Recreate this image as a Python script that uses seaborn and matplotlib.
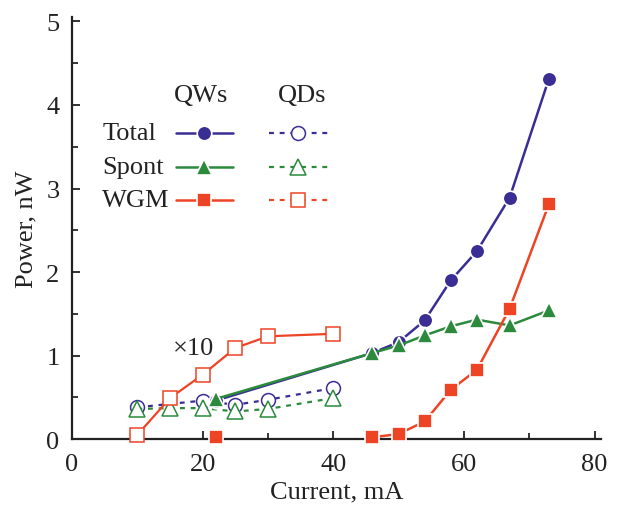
import matplotlib
matplotlib.use("Agg")
import matplotlib.pyplot as plt
import seaborn as sns

# QWs (filled markers, solid lines)
qw_total_x = [22, 46, 50, 54, 58, 62, 67, 73]
qw_total_y = [0.46, 1.03, 1.16, 1.42, 1.90, 2.25, 2.89, 4.31]
qw_spont_x = [22, 46, 50, 54, 58, 62, 67, 73]
qw_spont_y = [0.48, 1.03, 1.12, 1.24, 1.35, 1.43, 1.36, 1.54]
qw_wgm_x = [46, 50, 54, 58, 62, 67, 73]
qw_wgm_y = [0.02, 0.06, 0.21, 0.59, 0.83, 1.56, 2.81]
qw_wgm_lone_x = [22]
qw_wgm_lone_y = [0.02]

# QDs (open markers), WGM scaled x10
qd_total_x = [10, 20, 25, 30, 40]
qd_total_y = [0.38, 0.46, 0.41, 0.47, 0.61]
qd_spont_x = [10, 15, 20, 25, 30, 40]
qd_spont_y = [0.36, 0.37, 0.37, 0.33, 0.36, 0.49]
qd_wgm_x = [10, 15, 20, 25, 30, 40]
qd_wgm_y = [0.05, 0.49, 0.77, 1.09, 1.23, 1.26]

labels = ["Total", "Spont", "WGM"]
navy, green, red = "#3a2e94", "#2b8a3c", "#ee4426"
colors = [navy, green, red]
markers = ["o", "^", "s"]
msizes = [10.5, 11.5, 10.5]

sns.set_theme(style="ticks")
plt.rcParams["font.family"] = ["Liberation Serif", "DejaVu Serif"]

fig = plt.figure(figsize=(6.22, 5.06), dpi=100)
ax = fig.add_axes([0.1158, 0.1304, 0.8505, 0.8334])

dash = (0, (2.2, 2.6))
fs = 19
tc = "#222222"

# QD curves
qd = [(qd_total_x, qd_total_y), (qd_spont_x, qd_spont_y), (qd_wgm_x, qd_wgm_y)]
qd_ls = [dash, dash, "-"]
for i, (xs, ys) in enumerate(qd):
    sns.lineplot(x=xs, y=ys, ax=ax, color=colors[i], sort=False, estimator=None,
                 lw=1.6, ls=qd_ls[i], marker=markers[i], ms=msizes[i] - 0.5,
                 mfc="white", mec=colors[i], mew=1.1, zorder=3 + i, clip_on=False)

# QW curves
qw = [(qw_total_x, qw_total_y), (qw_spont_x, qw_spont_y), (qw_wgm_x, qw_wgm_y)]
for i, (xs, ys) in enumerate(qw):
    sns.lineplot(x=xs, y=ys, ax=ax, color=colors[i], sort=False, estimator=None,
                 lw=1.8, marker=markers[i], ms=msizes[i],
                 mfc=colors[i], mec="white", mew=1.2, zorder=6 + i, clip_on=False)
ax.plot(qw_wgm_lone_x, qw_wgm_lone_y, ls="none", marker="s", ms=msizes[2],
        mfc=red, mec="white", mew=1.2, zorder=8, clip_on=False)

ax.text(15.4, 1.09, "×10", fontsize=fs, va="center", ha="left", color=tc)

# hand-made legend
ax.text(19.8, 4.12, "QWs", fontsize=fs, ha="center", va="center", color=tc)
ax.text(35.3, 4.12, "QDs", fontsize=fs, ha="center", va="center", color=tc)
rows = [3.67, 3.26, 2.86]
for i, lab in enumerate(labels):
    y = rows[i]
    ax.text(4.6, y, lab, fontsize=fs, ha="left", va="center", color=tc)
    ax.plot([15.9, 24.6], [y, y], color=colors[i], lw=1.8, zorder=6)
    ax.plot([20.2], [y], marker=markers[i], ms=msizes[i], mfc=colors[i],
            mec="white", mew=1.2, ls="none", zorder=7)
    ax.plot([30.2, 39.6], [y, y], color=colors[i], lw=1.6, ls=dash, zorder=6)
    ax.plot([34.6], [y], marker=markers[i], ms=msizes[i] - 0.5, mfc="white",
            mec=colors[i], mew=1.1, ls="none", zorder=7)

ax.set_xlim(0, 81)
ax.set_ylim(0, 5.05)
ax.set_xticks([0, 20, 40, 60, 80])
ax.set_xticks([10, 30, 50, 70], minor=True)
ax.set_yticks([0, 1, 2, 3, 4, 5])
ax.set_yticks([0.5, 1.5, 2.5, 3.5, 4.5], minor=True)
ax.tick_params(axis="both", which="major", direction="in", length=6, width=1.3,
               labelsize=fs, colors=tc)
ax.tick_params(axis="y", which="major", pad=9)
ax.tick_params(axis="x", which="major", pad=10)
ax.tick_params(axis="both", which="minor", direction="in", length=4, width=1.3)
sns.despine(ax=ax)
for s in ["left", "bottom"]:
    ax.spines[s].set_linewidth(1.6)
    ax.spines[s].set_color(tc)

ax.set_xlabel("Current, mA", fontsize=fs, color=tc, labelpad=4)
ax.set_ylabel("Power, nW", fontsize=fs, color=tc, labelpad=6)

fig.savefig("out.png", dpi=100)
